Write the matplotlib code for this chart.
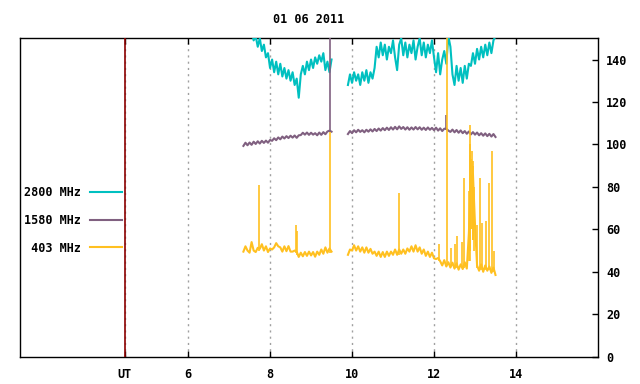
import numpy as np
import matplotlib
matplotlib.use("Agg")
import matplotlib.pyplot as plt

# dane (godziny UT, krok 0.05 h), dwa odcinki z przerwa
dt = 0.05
seg_start = [7.35, 9.90]

c2800_a = [156, 153, 157, 152, 154, 149, 151, 146, 150, 144, 147, 141, 143, 136, 140, 134,
           139, 133, 138, 132, 136, 131, 135, 130, 134, 128, 131, 122, 133, 137, 133, 139,
           135, 140, 136, 141, 138, 142, 139, 143, 135, 139, 134, 140]
c2800_b = [128, 133, 129, 134, 130, 133, 128, 134, 130, 135, 129, 134, 131, 136,
           146, 141, 148, 142, 147, 140, 146, 143, 149, 141, 135, 147, 150, 142, 148, 141,
           147, 143, 149, 140, 146, 150, 142, 148, 141, 147, 143, 149,
           141, 134, 143, 133, 140, 144, 138, 151, 146, 133, 128, 137, 130, 136, 129, 137,
           131, 138, 137, 143, 138, 145, 140, 146, 141, 147, 142, 148, 143, 149, 151]

c1580_a = [99.3, 100.8, 99.6, 100.9, 99.8, 101.3, 100.2, 101.5, 100.4, 101.7, 100.7, 101.8,
           100.8, 102.1, 101.7, 102.9, 102.0, 103.3, 102.4, 103.7, 102.8, 103.9, 103.0, 104.1,
           103.2, 104.2, 103.1, 104.3, 104.4, 105.5, 104.6, 105.6, 104.5, 105.5, 104.6, 105.3,
           104.3, 105.6, 104.5, 105.8, 104.8, 106.1, 106.5, 106.0]
c1580_b = [104.9, 106.3, 105.3, 106.7, 105.7, 106.9, 105.9, 106.7, 105.7, 106.9, 106.0, 107.1,
           106.1, 107.3, 106.3, 107.5, 106.5, 107.7, 106.7, 107.9, 106.8, 108.1, 107.0, 108.3,
           107.1, 108.5, 107.3, 108.2, 107.0, 108.1, 106.9, 108.0, 107.0, 108.2, 107.1, 108.1,
           106.9, 107.9, 106.8, 108.0, 106.9, 107.8, 106.7, 107.9, 106.5, 107.6, 106.3, 107.4,
           107.4, 106.5, 105.9, 107.0, 105.7, 106.8, 105.5, 106.6, 105.3, 106.3, 105.0, 106.1,
           104.7, 105.8, 104.6, 105.6, 104.3, 105.3, 104.1, 105.2, 103.9, 105.0, 103.7, 104.9,
           103.5]

c403_a = [49.5, 52.0, 50.0, 49.0, 54.0, 50.0, 49.3, 51.3, 50.8, 53.0, 50.0, 52.0, 49.3, 51.0,
          50.5, 51.5, 53.5, 52.0, 51.5, 49.5, 52.0, 49.7, 52.1, 49.5, 49.5, 50.0, 49.5, 47.0,
          49.0, 47.3, 49.3, 47.5, 49.5, 47.7, 49.3, 47.1, 49.5, 48.0, 50.5, 48.5, 51.5, 49.0,
          51.0, 49.5]
c403_b = [48.0, 50.5, 50.0, 52.5, 50.0, 52.0, 49.5, 51.5, 49.0, 51.5, 49.0, 50.8, 48.5, 49.5,
          47.5, 49.5, 47.0, 49.3, 47.0, 49.5, 47.5, 49.5, 48.0, 50.5, 48.0, 50.5, 48.5, 50.5,
          48.5, 51.0, 49.5, 52.0, 49.5, 52.5, 49.5, 51.5, 48.5, 50.5, 47.5, 49.5, 47.0, 49.0,
          46.3, 46.0, 46.5, 45.0, 43.0, 45.5, 42.5, 44.5, 42.0, 44.3, 41.5, 44.0, 41.0, 43.5,
          41.3, 44.5, 41.5, 58.0, 84.0, 86.0, 62.0, 43.0, 40.5, 43.5, 40.0, 43.0, 40.5, 42.5,
          39.5, 42.0, 38.5]

# krotkie piki (czas, dol, gora)
spk403_t = [7.74, 8.63, 8.65, 9.46, 11.15, 12.12, 12.32, 12.41, 12.50, 12.55, 12.69, 12.73,
            12.86, 12.87, 12.88, 12.89, 12.91, 12.93, 12.94, 12.96, 12.98, 13.05, 13.12, 13.16,
            13.27, 13.33, 13.41, 13.46]
spk403_lo = [50, 49, 48, 49, 48, 45, 43, 43, 42, 42, 42, 42, 45, 45, 50, 50, 60, 60, 55, 55,
             50, 42, 41, 41, 41, 41, 40, 40]
spk403_hi = [81, 62, 59, 106, 77, 53, 156, 51, 53, 57, 54, 84, 78, 95, 109, 100, 93, 97, 92,
             90, 80, 62, 84, 63, 64, 82, 97, 50]

spk1580_t = [9.47, 12.30]
spk1580_lo = [106, 107]
spk1580_hi = [156, 114]

labels = ["2800 MHz", "1580 MHz", " 403 MHz"]
colors = ["#00c0c0", "#806080", "#ffc020"]
xticks = [4.46, 6, 8, 10, 12, 14]
xticklabels = ["UT", "6", "8", "10", "12", "14"]
yticks = [0, 20, 40, 60, 80, 100, 120, 140]

plt.rcParams['font.family'] = ['DejaVu Sans Mono']
plt.rcParams['font.weight'] = 'bold'
plt.rcParams['font.size'] = 8.5

fig = plt.figure(figsize=(6.4, 3.84), dpi=100)
ax = fig.add_axes([0.03125, 0.0711, 0.9031, 0.8292])

series = [(c2800_a, c2800_b), (c1580_a, c1580_b), (c403_a, c403_b)]
for k, (a, b) in enumerate(series):
    for j, vals in enumerate((a, b)):
        t = seg_start[j] + dt * np.arange(len(vals))
        ax.plot(t, vals, color=colors[k], lw=1.5, label=labels[k] if j == 0 else None, zorder=3 + k)

ax.vlines(spk1580_t, spk1580_lo, spk1580_hi, color=colors[1], lw=1.2, zorder=4)
ax.vlines(spk403_t, spk403_lo, spk403_hi, color=colors[2], lw=1.2, zorder=5)

ax.set_xlim(1.9, 16.0)
ax.set_ylim(0, 150)

ax.set_xticks(xticks)
ax.set_xticklabels(xticklabels)
ax.xaxis.set_ticks_position('both')
ax.tick_params(axis='x', direction='in', length=4, width=1, pad=8)
ax.yaxis.tick_right()
ax.set_yticks(yticks)
ax.tick_params(axis='y', direction='in', length=4, width=1, pad=6)

ax.grid(axis='x', color='#a0a0a0', linestyle=(0, (1.5, 3)), lw=1)
ax.axvline(4.46, color='#8b0000', lw=1.2, zorder=6)

for s in ax.spines.values():
    s.set_linewidth(1)

ax.set_title("01 06 2011", pad=11, fontsize=8.5, fontweight='bold')

leg = ax.legend(loc='center left', bbox_to_anchor=(0.0074, 0.4284), frameon=False,
                markerfirst=False, borderaxespad=0, borderpad=0, labelspacing=1.25,
                handlelength=2.75, handletextpad=0.7)

plt.savefig('out.png')
